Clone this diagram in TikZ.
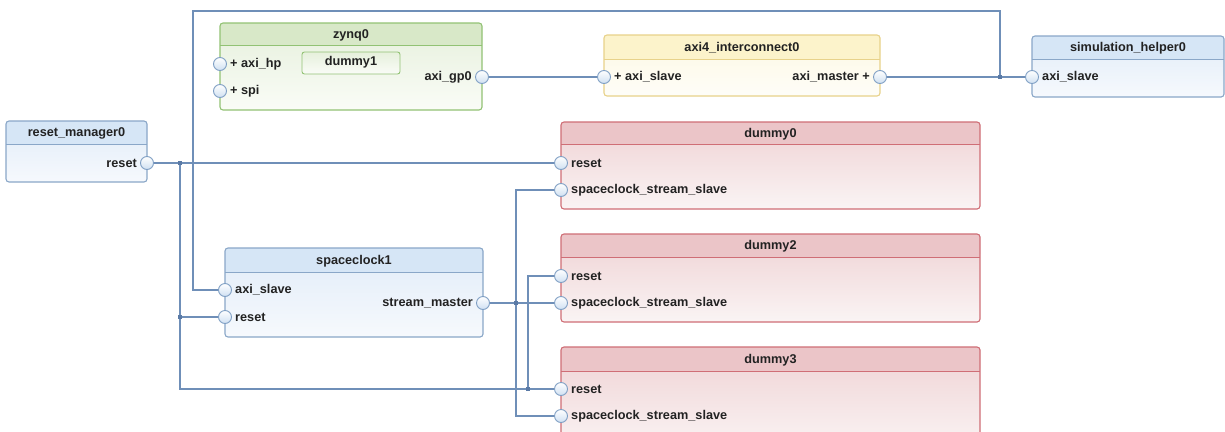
\documentclass[tikz,border=0pt]{standalone}
\usepackage{fontspec}
\setmainfont{Liberation Sans}
\definecolor{txt}{HTML}{222222}
\definecolor{wirec}{HTML}{6F8FB8}
\definecolor{junc}{HTML}{5A7AA6}
\definecolor{portD}{HTML}{7F9FC4}
\definecolor{portF}{HTML}{CFE0F2}
% blue blocks
\definecolor{bluH}{HTML}{D6E6F6}
\definecolor{bluD}{HTML}{8AA7C8}
\definecolor{bluT}{HTML}{E1ECF8}
\definecolor{bluB}{HTML}{F6F9FD}
% red blocks
\definecolor{redH}{HTML}{EBC5C8}
\definecolor{redD}{HTML}{CF6E76}
\definecolor{redT}{HTML}{EFD2D4}
\definecolor{redB}{HTML}{FAF4F4}
% green blocks
\definecolor{grnH}{HTML}{D8E8C8}
\definecolor{grnD}{HTML}{92C274}
\definecolor{grnT}{HTML}{E6F0DC}
\definecolor{grnB}{HTML}{FAFCF7}
% yellow blocks
\definecolor{ylwH}{HTML}{FCF3CB}
\definecolor{ylwD}{HTML}{E8D28A}
\definecolor{ylwT}{HTML}{FDF8E2}
\definecolor{ylwB}{HTML}{FEFDF8}

\tikzset{
  lbl/.style={font=\fontsize{12.7}{14}\selectfont\bfseries, text=txt, inner sep=0pt},
  wire/.style={draw=wirec, line width=1.1pt},
  port/.style={circle, draw=portD, line width=0.9pt, minimum size=13pt, inner sep=0pt,
    top color=white, bottom color=portF},
  junction/.style={fill=junc, minimum size=4.5pt, inner sep=0pt},
}

% block: name, x1, y1, x2, y2, header bottom, title, colour prefix
\newcommand\blk[8]{%
  \path[rounded corners=3pt, top color=#8T, bottom color=#8B] (#2,#3) rectangle (#4,#5);
  \fill[#8H, rounded corners=3pt] (#2,#3) rectangle (#4,#6);
  \fill[#8H] (#2,{#6-4}) rectangle (#4,#6);
  \draw[#8D, line width=0.9pt] (#2,#6) -- (#4,#6);
  \draw[#8D, line width=1.1pt, rounded corners=3pt] (#2,#3) rectangle (#4,#5);
  \node[lbl] (#1) at ({(#2+#4)/2},{(#3+#6)/2+1}) {#7};%
}
% port on a left edge: node name, x, y, text
\newcommand\lport[4]{%
  \node[port] (#1) at (#2,#3) {};
  \node[lbl, anchor=west] (#1-t) at ({#2+10},#3) {#4};%
}
% port on a right edge: node name, x, y, text
\newcommand\rport[4]{%
  \node[port] (#1) at (#2,#3) {};
  \node[lbl, anchor=east] (#1-t) at ({#2-10},#3) {#4};%
}

\begin{document}
\begin{tikzpicture}[x=1pt, y=-1pt]
\useasboundingbox (0,0) rectangle (1225,431);
\clip (0,0) rectangle (1225,431);
\fill[white] (0,0) rectangle (1225,431);

% ---- blocks
\blk{zynq}{220}{23}{482}{110}{45}{zynq0}{grn}
\path[rounded corners=2.5pt, top color=grnT, bottom color=grnB, draw=grnD, line width=0.9pt]
  (302,52) rectangle (400,74);
\node[lbl] (dummy1) at (351,62) {dummy1};
\blk{ic}{604}{35}{880}{96}{59}{axi4\_interconnect0}{ylw}
\blk{sh}{1032}{36}{1224}{97}{59}{simulation\_helper0}{blu}
\blk{rm}{6}{121}{147}{182}{144}{reset\_manager0}{blu}
\blk{sc}{225}{248}{483}{337}{272}{spaceclock1}{blu}
\blk{d0}{561}{122}{980}{209}{144}{dummy0}{red}
\blk{d2}{561}{234}{980}{322}{257}{dummy2}{red}
\blk{d3}{561}{347}{980}{450}{371}{dummy3}{red}

% ---- ports
\lport{zhp}{220}{64}{+ axi\_hp}
\lport{zspi}{220}{91}{+ spi}
\rport{zgp}{482}{77}{axi\_gp0}
\lport{ics}{604}{77}{+ axi\_slave}
\rport{icm}{880}{77}{axi\_master +}
\lport{shs}{1032}{77}{axi\_slave}
\rport{rmr}{147}{163}{reset}
\lport{scs}{225}{290}{axi\_slave}
\lport{scr}{225}{317}{reset}
\rport{scm}{483}{303}{stream\_master}
\lport{d0r}{561}{163}{reset}
\lport{d0s}{561}{190}{spaceclock\_stream\_slave}
\lport{d2r}{561}{276}{reset}
\lport{d2s}{561}{303}{spaceclock\_stream\_slave}
\lport{d3r}{561}{389}{reset}
\lport{d3s}{561}{416}{spaceclock\_stream\_slave}

% ---- routing points
\coordinate (ja) at (1000,77);
\coordinate (ta) at (1000,11);
\coordinate (tb) at (193,11);
\coordinate (jr1) at (180,163);
\coordinate (jr2) at (180,317);
\coordinate (jr3) at (528,389);
\coordinate (js) at (516,303);
\coordinate (sa) at (516,190);
\coordinate (sb) at (516,416);

% ---- connectors
\draw[wire] (zgp.east) -- (ics.west);
\draw[wire] (icm.east) -- (shs.west);
\draw[wire] (ja) -- (ta) -- (tb) |- (scs.west);
\draw[wire] (rmr.east) -- (d0r.west);
\draw[wire] (jr1) |- (d3r.west);
\draw[wire] (jr2) -- (scr.west);
\draw[wire] (jr3) |- (d2r.west);
\draw[wire] (scm.east) -- (d2s.west);
\draw[wire] (d0s.west) -- (sa) -- (sb) -- (d3s.west);

% ---- junction dots
\node[junction] (jna) at (ja) {};
\node[junction] (jn1) at (jr1) {};
\node[junction] (jn2) at (jr2) {};
\node[junction] (jn3) at (jr3) {};
\node[junction] (jns) at (js) {};
\end{tikzpicture}
\end{document}
